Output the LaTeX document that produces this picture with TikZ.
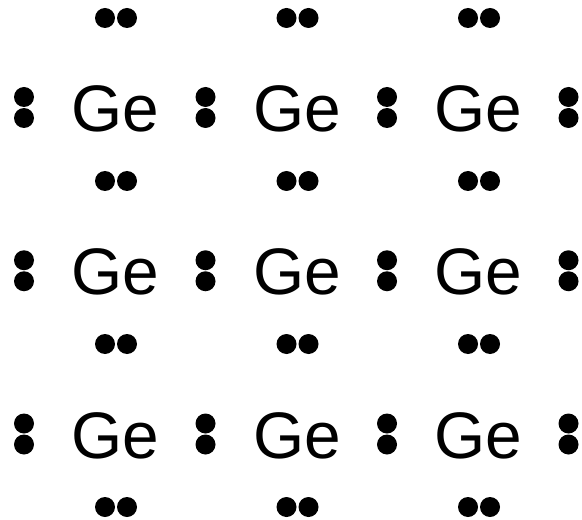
\documentclass[tikz,border=0pt]{standalone}
\usepackage{fontspec}
\setmainfont{Liberation Sans}
\usetikzlibrary{positioning}

\begin{document}
\begin{tikzpicture}[x=1bp, y=-1bp,
  atom/.style={font=\fontsize{66}{66}\selectfont, inner sep=0pt, anchor=base},
  electron/.style={circle, fill=black, inner sep=0pt, minimum size=20bp}]

  \useasboundingbox (0,0) rectangle (582,520);

  % germanium atoms
  \foreach \i in {0,1,2}
    \foreach \j in {0,1,2}
      \node [atom] (ge-\i-\j) at (115.5+181.5*\i, 131.5+163.25*\j) {Ge};

  % shared pairs left and right of the atoms
  \foreach \i in {0,1,2,3}
    \foreach \j in {0,1,2} {
      \node [electron] (lr-\i-\j-a) at (24+181.5*\i, 97+163.25*\j) {};
      \node [electron] (lr-\i-\j-b) at (24+181.5*\i, 118+163.25*\j) {};
    }

  % shared pairs above and below the atoms
  \foreach \i in {0,1,2}
    \foreach \k in {0,1,2,3} {
      \node [electron] (ud-\i-\k-a) at (105+181.5*\i, 18+163*\k) {};
      \node [electron] (ud-\i-\k-b) at (127+181.5*\i, 18+163*\k) {};
    }
\end{tikzpicture}
\end{document}
